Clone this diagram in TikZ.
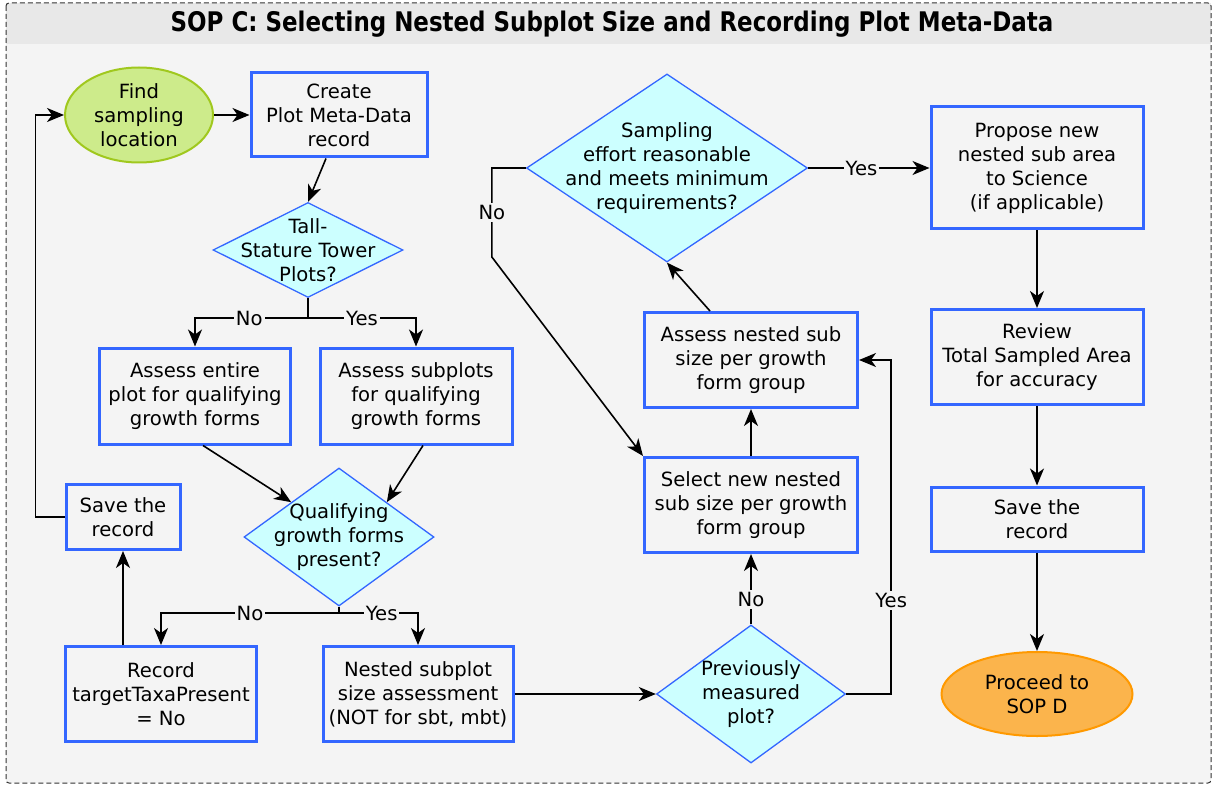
\documentclass[tikz,border=0pt]{standalone}
\usepackage{fontspec}
\setmainfont{DejaVu Sans}
\newfontfamily\titlefont[FakeStretch=0.85]{DejaVu Sans}
\usetikzlibrary{shapes.geometric,arrows.meta}
\definecolor{bgc}{HTML}{F4F4F4}
\definecolor{titlec}{HTML}{E8E8E8}
\definecolor{bl}{HTML}{3366FF}
\definecolor{dfill}{HTML}{CCFFFF}
\definecolor{grf}{HTML}{CDEB8B}
\definecolor{grs}{RGB}{160,200,30}
\definecolor{orf}{HTML}{FBB44C}
\definecolor{ors}{HTML}{FF9900}
\begin{document}
\begin{tikzpicture}[x=1pt,y=-1pt, font=\fontsize{19.6}{24}\selectfont,
 box/.style={rectangle, draw=bl, line width=3pt, fill=bgc, align=center, inner sep=0pt},
 dia/.style={diamond, draw=bl, line width=1.3pt, fill=dfill, inner sep=0pt},
 ell/.style={ellipse, line width=2pt, inner sep=0pt},
 arr/.style={line width=1.6pt, -{Stealth[length=17pt,width=14pt,inset=5pt]}},
 ln/.style={line width=1.6pt},
 lab/.style={fill=bgc, inner sep=2pt}]
\useasboundingbox (0,0) rectangle (1214,786);
\fill[bgc] (6,3) rectangle (1211,783);
\fill[titlec] (6,3) rectangle (1211,44);
\draw[dash pattern=on 5pt off 3pt, line width=1pt, black!80, rounded corners=3pt] (6,3) rectangle (1211,783);
\node[font=\titlefont\bfseries\fontsize{27}{32}\selectfont] (title) at (612,24) {SOP C: Selecting Nested Subplot Size and Recording Plot Meta-Data};

% nodes
\node[ell, draw=grs, fill=grf, minimum width=148pt, minimum height=95pt,
  label={[align=center]center:Find\\sampling\\location}] (find) at (139,115) {};
\node[box, minimum width=176pt, minimum height=84pt] (create) at (339,115) {Create\\Plot Meta-Data\\record};
\node[dia, minimum width=190pt, minimum height=95pt,
  label={[align=center]center:Tall-\\Stature Tower\\Plots?}] (tall) at (308,250) {};
\node[box, minimum width=191pt, minimum height=96pt] (aE) at (195,396) {Assess entire\\plot for qualifying\\growth forms};
\node[box, minimum width=192pt, minimum height=96pt] (aS) at (416,396) {Assess subplots\\for qualifying\\growth forms};
\node[dia, minimum width=190pt, minimum height=138pt,
  label={[align=center]center:Qualifying\\growth forms\\present?}] (qual) at (339,537) {};
\node[box, minimum width=114pt, minimum height=65pt] (saveL) at (123,517) {Save the\\record};
\node[box, minimum width=191pt, minimum height=95pt] (rec) at (161,694) {Record\\targetTaxaPresent\\= No};
\node[box, minimum width=190pt, minimum height=95pt] (nest) at (418,694) {Nested subplot\\size assessment\\(NOT for sbt, mbt)};
\node[dia, minimum width=189pt, minimum height=138pt,
  label={[align=center]center:Previously\\measured\\plot?}] (prev) at (751,694) {};
\node[box, minimum width=213pt, minimum height=95pt] (sel) at (751,505) {Select new nested\\sub size per growth\\form group};
\node[box, minimum width=213pt, minimum height=95pt] (asn) at (751,360) {Assess nested sub\\size per growth\\form group};
\node[dia, minimum width=281pt, minimum height=188pt,
  label={[align=center]center:Sampling\\effort reasonable\\and meets minimum\\requirements?}] (sd) at (667,168) {};
\node[box, minimum width=212pt, minimum height=122pt] (prop) at (1037,168) {Propose new\\nested sub area\\to Science\\(if applicable)};
\node[box, minimum width=212pt, minimum height=95pt] (rev) at (1037,357) {Review\\Total Sampled Area\\for accuracy};
\node[box, minimum width=212pt, minimum height=64pt] (saveR) at (1037,519) {Save the\\record};
\node[ell, draw=ors, fill=orf, minimum width=191pt, minimum height=84pt,
  label={[align=center]center:Proceed to\\SOP D}] (proc) at (1037,694) {};

% connectors
\draw[arr] (find) -- (create);
\draw[arr] ([xshift=-13pt]create.south) -- (tall.north);
\coordinate (tb) at (308,318);
\draw[ln] (tall.south) -- (tb);
\draw[arr] (tb) -| node[lab,pos=0.26]{No} (aE.north);
\draw[arr] (tb) -| node[lab,pos=0.25]{Yes} (aS.north);
\draw[arr] ([xshift=8pt]aE.south) -- (qual.north west);
\draw[arr] ([xshift=7pt]aS.south) -- (qual.north east);
\coordinate (qb) at (339,613);
\draw[ln] (qual.south) -- (qb);
\draw[arr] (qb) -| node[lab,pos=0.25]{No} (rec.north);
\draw[arr] (qb) -| node[lab,pos=0.27]{Yes} (nest.north);
\draw[arr] (rec.north -| saveL.south) -- (saveL.south);
\draw[arr] (saveL.west) -- ++(-29,0) |- (find.west);
\draw[arr] (nest.east) -- (prev.west);
\draw[arr] (prev.north) -- node[lab,pos=0.35]{No} (sel.south);
\draw[arr] (sel.north) -- (asn.south);
\draw[arr] (prev.east) -- ++(45,0) |- node[lab,pos=0.14]{Yes} (asn.east);
\draw[arr] ([xshift=-41pt]asn.north) -- (sd.south);
\draw[arr] (sd.west) -- ++(-34,0) -- node[lab]{No} ++(0,89) -- (sel.north west);
\draw[arr] (sd.east) -- node[lab,pos=0.44]{Yes} (prop.west);
\draw[arr] (prop.south) -- (rev.north);
\draw[arr] (rev.south) -- (saveR.north);
\draw[arr] (saveR.south) -- (proc.north);
\end{tikzpicture}
\end{document}
